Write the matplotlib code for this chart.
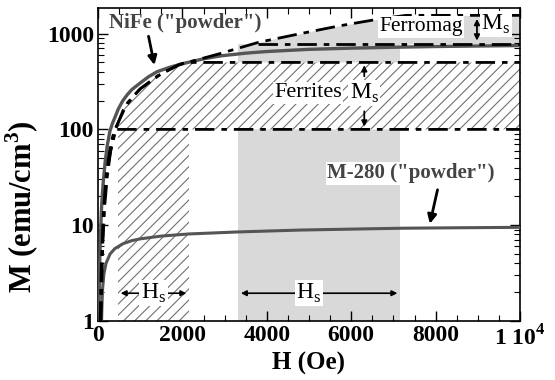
import numpy as np
import matplotlib
matplotlib.use('Agg')
import matplotlib.pyplot as plt
from matplotlib.ticker import MultipleLocator, FixedLocator, NullFormatter

plt.rcParams['font.family'] = ['Liberation Serif', 'DejaVu Serif']
plt.rcParams['mathtext.fontset'] = 'custom'
plt.rcParams['mathtext.rm'] = 'Liberation Serif'
plt.rcParams['mathtext.bf'] = 'Liberation Serif:bold'
plt.rcParams['hatch.linewidth'] = 0.8

# curves (H in Oe, M in emu/cm3)
nife_H = [20, 40, 60, 80, 100, 130, 170, 220, 280, 340, 400, 480, 590, 700, 800, 1000, 1200, 1400, 1700, 2000,
          2500, 2900, 3500, 4000, 5000, 6000, 7000, 8000, 9000, 10000]
nife_M = [1, 4, 8, 14, 20, 30, 46, 68, 95, 115, 133, 163, 200, 232, 260, 305, 355, 400, 445, 485,
          545, 585, 625, 650, 685, 705, 720, 733, 742, 750]

m280_H = [85, 95, 110, 140, 190, 285, 400, 590, 800, 1000, 1500, 2150, 3300, 4800, 6000, 7200, 8500, 10000]
m280_M = [1, 1.5, 2.2, 3.1, 4.0, 5.0, 5.7, 6.4, 6.9, 7.2, 7.7, 8.1, 8.5, 8.9, 9.1, 9.3, 9.4, 9.5]

ferr100_H = [60, 90, 130, 180, 240, 300, 360, 420, 10000]
ferr100_M = [1, 4, 12, 26, 48, 70, 88, 100, 100]

ferr500_H = [70, 110, 160, 220, 300, 450, 600, 830, 1000, 1400, 1950, 2150, 10000]
ferr500_M = [1, 6, 16, 32, 60, 110, 160, 220, 265, 360, 480, 500, 500]

ferro_H = [50, 80, 130, 200, 400, 700, 1000, 1500, 1900, 2400, 2900, 3800, 4800, 5700, 6700, 7300, 10000]
ferro_M = [1, 4, 14, 35, 100, 190, 265, 380, 470, 540, 620, 810, 1000, 1200, 1430, 1550, 1550]

ferro_low_H = [3800, 10000]
ferro_low_M = [780, 780]

# field ranges of the shaded H_s bands
hs_ferrite = [470, 2160]
hs_ferro = [3320, 7160]

xticks = [0, 2000, 4000, 6000, 8000, 10000]
xticklabels = ['0', '2000', '4000', '6000', '8000', '1 10$^\\mathbf{4}$']
yticks = [1, 10, 100, 1000]
yticklabels = ['1', '10', '100', '1000']

fig = plt.figure(figsize=(5.55, 3.8), dpi=100)
ax = fig.add_axes([98 / 555, 59 / 380, 422 / 555, 313 / 380])
ax.set_yscale('log')
ax.set_xlim(0, 10000)
ax.set_ylim(1, 1850)

grey = '#d9d9d9'
# grey band: ferromagnets
ax.fill_between(hs_ferro, 1, ferro_low_M[0], color=grey, lw=0, zorder=1)
hh = np.linspace(hs_ferro[0], 10000, 200)
ax.fill_between(hh, ferro_low_M[0], np.interp(hh, ferro_H, ferro_M), color=grey, lw=0, zorder=1)

# hatched band: ferrites
hh = np.linspace(420, 10000, 400)
lower = np.interp(hh, ferr100_H, ferr100_M)
upper = np.interp(hh, ferr500_H, ferr500_M)
ax.fill_between(hh, lower, upper, where=upper > lower, facecolor='white', edgecolor='#707070',
                hatch='///', lw=0, zorder=2)
ax.fill_between(hs_ferrite, 1, 100, facecolor='white', edgecolor='#707070', hatch='///', lw=0, zorder=2)

# curves
ax.plot(nife_H, nife_M, color='#555555', lw=2.4, zorder=4)
ax.plot(m280_H, m280_M, color='#555555', lw=2.2, zorder=4)
dd = (0, (7, 2.5, 2, 2.5))
for H, M in [(ferr100_H, ferr100_M), (ferr500_H, ferr500_M), (ferro_H, ferro_M), (ferro_low_H, ferro_low_M)]:
    ax.plot(H, M, color='black', lw=2.0, ls=dd, zorder=5)

# annotations
box = dict(facecolor='white', edgecolor='none', pad=1.0)
ax.text(250, 1300, 'NiFe ("powder")', fontsize=15, fontweight='bold', color='#444444', va='center', zorder=6)
ax.annotate('', xy=(1350, 440), xytext=(1185, 1000),
            arrowprops=dict(arrowstyle='-|>', color='black', lw=2, mutation_scale=13), zorder=6)
ax.text(7650, 1180, 'Ferromag', fontsize=15.5, ha='center', va='center', bbox=box, zorder=6)
ax.annotate('', xy=(8980, 790), xytext=(8980, 1520),
            arrowprops=dict(arrowstyle='<|-|>', color='black', lw=1.3, mutation_scale=8), zorder=6)
ax.text(9080, 1250, 'M$_\\mathrm{s}$', fontsize=17, ha='left', va='center', bbox=box, zorder=6)
ax.text(4980, 240, 'Ferrites', fontsize=16, ha='center', va='center', bbox=box, zorder=6)
ax.text(6310, 240, 'M$_\\mathrm{s}$', fontsize=17, ha='center', va='center', bbox=box, zorder=6)
ax.annotate('', xy=(6310, 500), xytext=(6310, 335),
            arrowprops=dict(arrowstyle='-|>', color='black', lw=1.3, mutation_scale=8), zorder=6)
ax.annotate('', xy=(6310, 100), xytext=(6310, 165),
            arrowprops=dict(arrowstyle='-|>', color='black', lw=1.3, mutation_scale=8), zorder=6)
ax.text(7420, 35, 'M-280 ("powder")', fontsize=15, fontweight='bold', color='#444444',
        ha='center', va='center', bbox=box, zorder=6)
ax.annotate('', xy=(7850, 9.7), xytext=(8060, 25),
            arrowprops=dict(arrowstyle='-|>', color='black', lw=2, mutation_scale=13), zorder=6)
ax.annotate('', xy=(hs_ferrite[0], 1.95), xytext=(hs_ferrite[1], 1.95),
            arrowprops=dict(arrowstyle='<|-|>', color='black', lw=1.2, mutation_scale=8), zorder=6)
ax.text(np.mean(hs_ferrite), 1.95, 'H$_\\mathrm{s}$', fontsize=17, ha='center', va='center', bbox=box, zorder=7)
ax.annotate('', xy=(hs_ferro[0], 1.95), xytext=(hs_ferro[1], 1.95),
            arrowprops=dict(arrowstyle='<|-|>', color='black', lw=1.2, mutation_scale=8), zorder=6)
ax.text(5000, 1.95, 'H$_\\mathrm{s}$', fontsize=17, ha='center', va='center', bbox=box, zorder=7)

# axes
ax.xaxis.set_major_locator(FixedLocator(xticks))
ax.set_xticklabels(xticklabels)
ax.xaxis.set_minor_locator(MultipleLocator(500))
ax.yaxis.set_major_locator(FixedLocator(yticks))
ax.set_yticklabels(yticklabels)
ax.yaxis.set_minor_formatter(NullFormatter())
ax.tick_params(which='both', direction='in', top=True, right=True, labelsize=17, pad=3)
ax.tick_params(which='major', length=7, width=1)
ax.tick_params(which='minor', length=4, width=0.8)
for lab in ax.get_xticklabels() + ax.get_yticklabels():
    lab.set_fontweight('bold')
for s in ax.spines.values():
    s.set_linewidth(1.2)

ax.set_xlabel('H (Oe)', fontsize=18, fontweight='bold', labelpad=1)
ax.set_ylabel('M (emu/cm$^\\mathbf{3}$)', fontsize=22, fontweight='bold')
ax.yaxis.set_label_coords(-0.134, 0.365)

fig.savefig('out.png', dpi=100)
